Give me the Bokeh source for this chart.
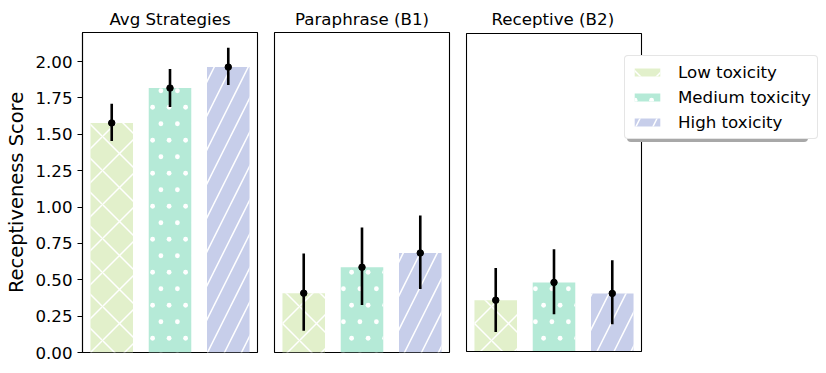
import base64
from bokeh.plotting import figure
from bokeh.layouts import row
from bokeh.models import (Legend, LegendItem, FixedTicker, PrintfTickFormatter, Range1d,
                          BoxAnnotation, ImageURLTexture)
from bokeh.core.properties import value
from bokeh.embed import file_html
from bokeh.resources import INLINE

# ---- data ----
panels = ["Avg Strategies", "Paraphrase (B1)", "Receptive (B2)"]
levels = ["Low toxicity", "Medium toxicity", "High toxicity"]
positions = [0, 1, 2]

low_means = [1.578, 0.408, 0.355]
medium_means = [1.818, 0.586, 0.478]
high_means = [1.962, 0.684, 0.402]

low_err_lo = [1.454, 0.149, 0.135]
low_err_hi = [1.711, 0.680, 0.577]
medium_err_lo = [1.688, 0.327, 0.258]
medium_err_hi = [1.949, 0.859, 0.708]
high_err_lo = [1.839, 0.437, 0.188]
high_err_hi = [2.096, 0.942, 0.632]

y_ticks = [0.0, 0.25, 0.5, 0.75, 1.0, 1.25, 1.5, 1.75, 2.0]

means = [low_means, medium_means, high_means]
err_lo = [low_err_lo, medium_err_lo, high_err_lo]
err_hi = [low_err_hi, medium_err_hi, high_err_hi]

colors = ["#E2F0CB", "#B5EAD7", "#C7CEEA"]

FONT = "DejaVu Sans"
BAR_W = 0.73
X0, X1 = -0.5015, 2.5015
Y0, Y1 = 0.0, 2.2
FRAME_W, FRAME_H = 175, 320
KX = FRAME_W / (X1 - X0)
KY = FRAME_H / (Y1 - Y0)

# staggered small white dots (matplotlib-like '.' hatch) as an SVG tile
tile = ('<svg xmlns="http://www.w3.org/2000/svg" width="33" height="33">'
        '<circle cx="4.1" cy="8.25" r="2.4" fill="#ffffff"/>'
        '<circle cx="20.6" cy="8.25" r="2.4" fill="#ffffff"/>'
        '<circle cx="12.4" cy="24.75" r="2.4" fill="#ffffff"/>'
        '<circle cx="28.9" cy="24.75" r="2.4" fill="#ffffff"/>'
        '</svg>')
dots_tex = ImageURLTexture(url="data:image/svg+xml;base64," + base64.b64encode(tile.encode()).decode())

hatches = [value("diagonal_cross"), value("mpl_dots"), value("right_diagonal_line")]
hatch_scales = [34, 33, 34]
hatch_weights = [1.5, 1.5, 1.5]

figs = []
bar_renderers = []
for i, title in enumerate(panels):
    if i == 0:
        kw = dict(width=265, height=362, min_border_left=82, min_border_right=8,
                  min_border_top=32, min_border_bottom=10,
                  x_range=Range1d(X0, X1), y_range=Range1d(Y0, Y1))
    elif i == 1:
        kw = dict(width=192, height=362, min_border_left=9, min_border_right=8,
                  min_border_top=32, min_border_bottom=10,
                  x_range=Range1d(X0, X1), y_range=Range1d(Y0, Y1))
    else:
        # wider frame so the legend can overlap the panel edge; panel box drawn below
        fw = 369 - 8 - 2
        xs = X0 - 1 / KX
        kw = dict(width=369, height=362, min_border_left=8, min_border_right=2,
                  min_border_top=31, min_border_bottom=9,
                  x_range=Range1d(xs, xs + fw / KX),
                  y_range=Range1d(Y0 - 1 / KY, Y1 + 1 / KY))
    p = figure(output_backend="svg", toolbar_location=None,
               x_axis_location=None,
               y_axis_location="left" if i == 0 else None,
               title=title, **kw)
    p.title.text_font = FONT
    p.title.text_font_size = "16.67px"
    p.title.text_font_style = "normal"
    p.title.text_color = "black"
    if i < 2:
        p.title.align = "center"
        p.title.standoff = 7
        p.outline_line_color = "black"
        p.outline_line_width = 1.1
        p.outline_line_alpha = 1
    else:
        p.title.align = "left"
        p.title.offset = 26
        p.title.standoff = 8
        p.outline_line_color = None
        p.add_layout(BoxAnnotation(left=X0, right=X1, bottom=Y0, top=Y1,
                                   fill_color=None, fill_alpha=0,
                                   line_color="black", line_width=1.1, line_alpha=1))
    p.background_fill_color = "white"
    p.border_fill_color = "white"
    p.xgrid.visible = False
    p.ygrid.visible = False

    if i == 0:
        ax = p.yaxis[0]
        ax.ticker = FixedTicker(ticks=y_ticks)
        ax.formatter = PrintfTickFormatter(format="%.2f")
        ax.major_label_text_font = FONT
        ax.major_label_text_font_size = "16.67px"
        ax.major_label_text_color = "black"
        ax.axis_label = "Receptiveness Score"
        ax.axis_label_text_font = FONT
        ax.axis_label_text_font_size = "19.44px"
        ax.axis_label_text_font_style = "normal"
        ax.axis_label_text_color = "black"
        ax.major_tick_out = 5
        ax.major_tick_in = 0
        ax.minor_tick_out = 0
        ax.minor_tick_in = 0
        ax.major_tick_line_color = "black"
        ax.major_tick_line_width = 1.1
        ax.axis_line_color = "black"
        ax.axis_line_width = 1.1
        ax.major_label_standoff = 5
        ax.axis_label_standoff = 4

    rs = []
    for j in range(3):
        r = p.vbar(x=[positions[j]], top=[means[j][i]], width=BAR_W,
                   fill_color=colors[j], line_color=None,
                   hatch_pattern=hatches[j], hatch_color="white",
                   hatch_extra={"mpl_dots": dots_tex},
                   hatch_scale=hatch_scales[j], hatch_weight=hatch_weights[j])
        rs.append(r)
    bar_renderers.append(rs)
    for j in range(3):
        p.segment(x0=[positions[j]], y0=[err_lo[j][i]], x1=[positions[j]], y1=[err_hi[j][i]],
                  line_color="black", line_width=2.6)
        p.scatter(x=[positions[j]], y=[means[j][i]], size=6.5, fill_color="black", line_color="black")
    figs.append(p)

p3 = figs[2]
rs = bar_renderers[2]


def make_legend(loc, shadow=False):
    if shadow:
        items = [LegendItem(label="", renderers=[rs[j]]) for j in range(3)]
    else:
        items = [LegendItem(label=levels[j], renderers=[rs[j]]) for j in range(3)]
    lg = Legend(items=items, location=loc, orientation="vertical",
                label_text_font=FONT, label_text_font_size="16.67px",
                label_text_color="black",
                glyph_width=32, glyph_height=10, label_standoff=15,
                padding=6, spacing=5, margin=0, label_height=20)
    if shadow:
        lg.label_width = 134
        lg.border_line_color = None
        lg.background_fill_color = "#a8a8a8"
        lg.background_fill_alpha = 1
        lg.label_text_alpha = 0
    else:
        lg.border_line_color = "#cccccc"
        lg.border_line_width = 1
        lg.background_fill_color = "white"
        lg.background_fill_alpha = 1
    try:
        lg.border_radius = 4
    except Exception:
        pass
    return lg


p3.add_layout(make_legend((162, 210), shadow=True), "center")
p3.add_layout(make_legend((159, 213)), "center")

layout = row(*figs, spacing=0)
open("out.html", "w").write(file_html(layout, INLINE))
